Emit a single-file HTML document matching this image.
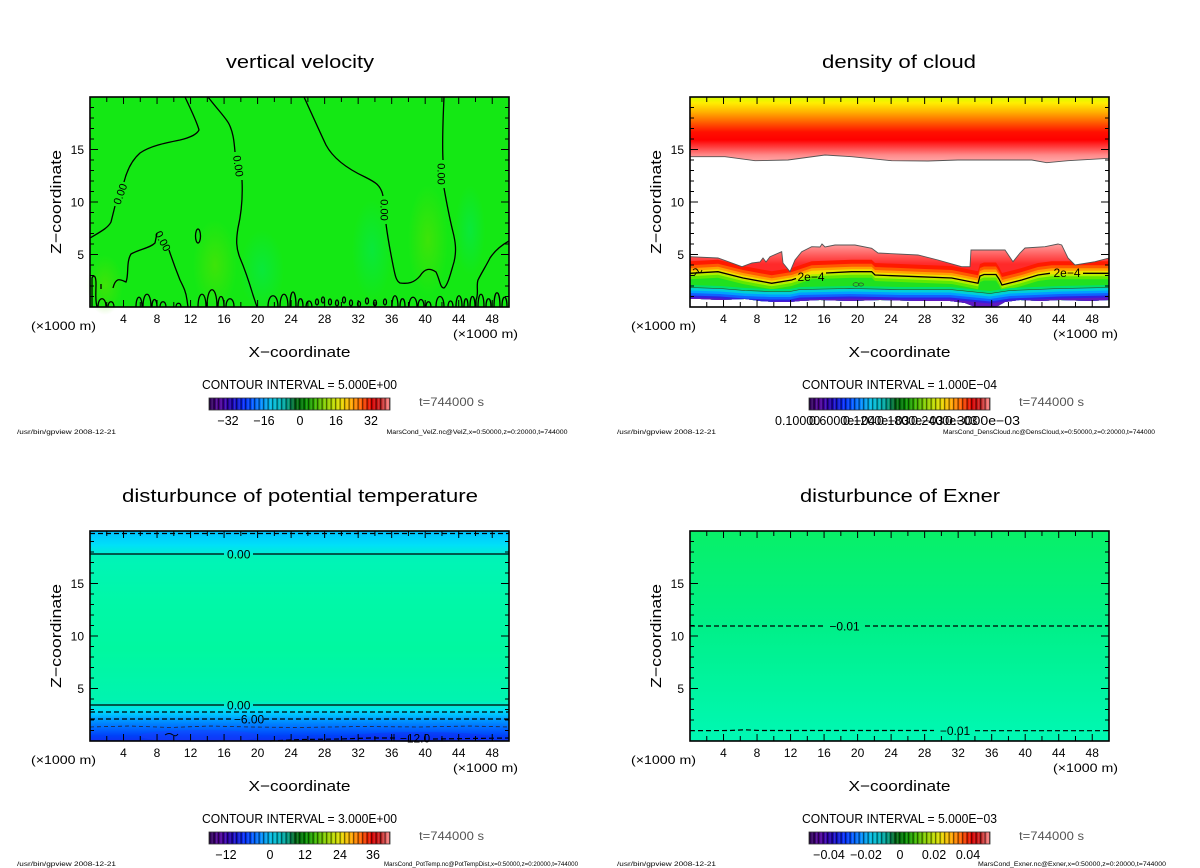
<!DOCTYPE html>
<html><head><meta charset="utf-8"><style>
html,body{margin:0;padding:0;background:#fff;}
svg{display:block;font-family:"Liberation Sans",sans-serif;}
</style></head><body>
<svg width="1200" height="868" viewBox="0 0 1200 868" xmlns="http://www.w3.org/2000/svg">
<defs>
<g id="ticks" fill="none" stroke="#000" stroke-width="1">
<path d="M16.76 0v5M50.28 0v5M83.8 0v5M117.32 0v5M150.84 0v5M184.36 0v5M217.88 0v5M251.4 0v5M284.92 0v5M318.44 0v5M351.96 0v5M385.48 0v5M16.76 210v-5M50.28 210v-5M83.8 210v-5M117.32 210v-5M150.84 210v-5M184.36 210v-5M217.88 210v-5M251.4 210v-5M284.92 210v-5M318.44 210v-5M351.96 210v-5M385.48 210v-5"/>
<path d="M33.52 0v7M67.04 0v7M100.56 0v7M134.08 0v7M167.6 0v7M201.12 0v7M234.64 0v7M268.16 0v7M301.68 0v7M335.2 0v7M368.72 0v7M402.24 0v7M33.52 210v-7M67.04 210v-7M100.56 210v-7M134.08 210v-7M167.6 210v-7M201.12 210v-7M234.64 210v-7M268.16 210v-7M301.68 210v-7M335.2 210v-7M368.72 210v-7M402.24 210v-7"/>
<path d="M0 199.5h4M0 189h4M0 178.5h4M0 168h4M0 147h4M0 136.5h4M0 126h4M0 115.5h4M0 94.5h4M0 84h4M0 73.5h4M0 63h4M0 42h4M0 31.5h4M0 21h4M0 10.5h4M419 199.5h-4M419 189h-4M419 178.5h-4M419 168h-4M419 147h-4M419 136.5h-4M419 126h-4M419 115.5h-4M419 94.5h-4M419 84h-4M419 73.5h-4M419 63h-4M419 42h-4M419 31.5h-4M419 21h-4M419 10.5h-4"/>
<path d="M0 157.5h8M0 105h8M0 52.5h8M419 157.5h-8M419 105h-8M419 52.5h-8"/>
<rect x="0" y="0" width="419" height="210" stroke-width="1.6"/>
</g>
<linearGradient id="cbg" x1="0" y1="0" x2="1" y2="0">
<stop offset="0" stop-color="#2a0050"/><stop offset="0.06" stop-color="#50009a"/><stop offset="0.12" stop-color="#2000b0"/>
<stop offset="0.2" stop-color="#0030ff"/><stop offset="0.28" stop-color="#0080ff"/><stop offset="0.35" stop-color="#00c0e0"/>
<stop offset="0.42" stop-color="#00a8a0"/><stop offset="0.48" stop-color="#006010"/><stop offset="0.53" stop-color="#008800"/>
<stop offset="0.58" stop-color="#30b000"/><stop offset="0.65" stop-color="#90d000"/><stop offset="0.72" stop-color="#e0e000"/>
<stop offset="0.78" stop-color="#ffb000"/><stop offset="0.84" stop-color="#ff6000"/><stop offset="0.9" stop-color="#e00000"/>
<stop offset="0.95" stop-color="#c02020"/><stop offset="1" stop-color="#ff9090"/>
</linearGradient>
<pattern id="stripes" patternUnits="userSpaceOnUse" x="209" y="0" width="4.5" height="20">
<rect x="0" y="0" width="1.3" height="20" fill="#000" fill-opacity="0.5"/>
<rect x="2.6" y="0" width="1" height="20" fill="#fff" fill-opacity="0.15"/>
</pattern>
<pattern id="stripes2" patternUnits="userSpaceOnUse" x="809" y="0" width="4.5" height="20">
<rect x="0" y="0" width="1.3" height="20" fill="#000" fill-opacity="0.5"/>
<rect x="2.6" y="0" width="1" height="20" fill="#fff" fill-opacity="0.15"/>
</pattern>
<radialGradient id="yg" cx="0.5" cy="0.5" r="0.5"><stop offset="0" stop-color="#60e000" stop-opacity="0.55"/><stop offset="1" stop-color="#60e000" stop-opacity="0"/></radialGradient>
<radialGradient id="bg" cx="0.5" cy="0.5" r="0.5"><stop offset="0" stop-color="#00e860" stop-opacity="0.5"/><stop offset="1" stop-color="#00e860" stop-opacity="0"/></radialGradient>
<linearGradient id="cloudTop" gradientUnits="userSpaceOnUse" x1="0" y1="97" x2="0" y2="163">
<stop offset="0" stop-color="#d8ff00"/><stop offset="0.09" stop-color="#ffee00"/><stop offset="0.23" stop-color="#ffb000"/>
<stop offset="0.38" stop-color="#ff6000"/><stop offset="0.53" stop-color="#ff1000"/><stop offset="0.65" stop-color="#ff0000"/>
<stop offset="0.76" stop-color="#ff4040"/><stop offset="0.88" stop-color="#ff8a8a"/><stop offset="1" stop-color="#ffb0b0"/>
</linearGradient>
<linearGradient id="cloudLow" gradientUnits="userSpaceOnUse" x1="0" y1="245" x2="0" y2="264">
<stop offset="0" stop-color="#ff9a9a"/><stop offset="0.5" stop-color="#ff6060"/><stop offset="1" stop-color="#ff2a2a"/>
</linearGradient>
<clipPath id="lowclip"><path d="M690,256.7 L718,258 L742,266.7 L752,263 L760,262 L763,258 L766,262 L770,256.7 L781.7,251.7 L783,263 L790,271.7 L795,260 L801.7,251.7 L811.7,246.7 L820,247 L822,244 L825,247 L835,245 L855,245 L871.7,248.3 L878,253 L918,255 L938,260 L961.7,266.7 L970,266.7 L971,250 L1005,250 L1013,261.7 L1020,253 L1025,248 L1045,246.7 L1058,244 L1061.7,245 L1068,258 L1075,265 L1095,261.7 L1109,258 L1109,300 L1090,301 L1060,300 L1040,301 L1020,300 L1005,302 L998,306 L990,307 L975,307 L965,303 L950,301 L920,301 L880,300 L850,301 L820,300 L800,301 L790,302 L775,302 L760,301 L745,299 L720,300 L700,299 L690,299 Z"/></clipPath>
<path id="c2poly" d="M690,273.3 L718,271.7 L743,278 L771.7,283.3 L791.7,280 L811.7,273.3 L851.7,271.7 L871.7,271.7 L875,275 L918,276.7 L951.7,278 L978,283.3 L980,276 L984,274.5 L996,274.5 L999,279 L1002,285 L1021.7,280 L1038,275 L1051.7,273.3 L1109,273.3 L1109,330 L690,330 Z"/>
<path id="wpoly" d="M690,0 L720,1 L745,3 L770,4 L790,4 L800,2 L850,1 L900,2 L950,2 L970,4 L990,6 L1010,3 L1060,1 L1109,0 L1109,40 L690,40 Z"/>
<linearGradient id="thetaG" gradientUnits="userSpaceOnUse" x1="0" y1="531" x2="0" y2="741">
<stop offset="0" stop-color="#00c0ff"/><stop offset="0.015" stop-color="#00c8ff"/><stop offset="0.067" stop-color="#00e0f8"/>
<stop offset="0.105" stop-color="#00ecd8"/><stop offset="0.12" stop-color="#00f4b8"/><stop offset="0.33" stop-color="#00f8a8"/>
<stop offset="0.567" stop-color="#00f8a0"/><stop offset="0.805" stop-color="#00f4b0"/><stop offset="0.83" stop-color="#00ecd0"/>
<stop offset="0.852" stop-color="#00e0f0"/><stop offset="0.871" stop-color="#00c8ff"/><stop offset="0.895" stop-color="#00a0ff"/>
<stop offset="0.919" stop-color="#0080ff"/><stop offset="0.948" stop-color="#0060ff"/><stop offset="0.976" stop-color="#0040f8"/>
<stop offset="1" stop-color="#1030f0"/>
</linearGradient>
<linearGradient id="exnerG" gradientUnits="userSpaceOnUse" x1="0" y1="531" x2="0" y2="741">
<stop offset="0" stop-color="#08f068"/><stop offset="0.45" stop-color="#00f088"/><stop offset="1" stop-color="#00f8b4"/>
</linearGradient>
</defs>

<!-- ============ PANEL TL: vertical velocity ============ -->
<rect x="90" y="97" width="419" height="210" fill="#14e814"/>
<g>
<ellipse cx="105" cy="285" rx="18" ry="30" fill="url(#yg)"/>
<ellipse cx="215" cy="265" rx="22" ry="45" fill="url(#yg)"/>
<ellipse cx="428" cy="240" rx="20" ry="55" fill="url(#yg)"/>
<ellipse cx="262" cy="270" rx="22" ry="40" fill="url(#bg)"/>
<ellipse cx="372" cy="250" rx="20" ry="50" fill="url(#bg)"/>
<ellipse cx="470" cy="230" rx="15" ry="45" fill="url(#bg)"/>
</g>
<g fill="none" stroke="#000" stroke-width="1.3">
<path d="M90,238 C100,232 108,228 111,222 L115,206"/>
<path d="M124,182 C127,170 132,160 140,153 C150,146 165,143 180,140 C192,137 197,134 199,130 C197,122 192,112 185,97"/>
<path d="M208,97 C218,110 226,118 229,124 C233,132 234,140 235,152"/>
<path d="M242,180 C243,200 241,215 238,228 C236,240 236,248 240,258 C246,272 250,285 253,295 L257,307"/>
<path d="M304,97 C310,110 318,128 326,145 C334,160 350,170 365,177 C375,182 381,185 383,196"/>
<path d="M386,224 C388,240 391,255 393,265 C395,275 396,281 400,283 C408,284 414,283 420,276 C425,268 430,268 436,272 C440,280 440,288 444,288 C448,285 451,272 454,262 C457,250 455,240 453,232 C450,220 447,205 444,188"/>
<path d="M443,160 C442,140 443,120 444,97"/>
<path d="M509,241 C500,246 494,252 490,258 C486,266 482,272 478,280 C476,286 479,294 476,300 L476,307"/>
<path d="M113,288 C116,276 121,280 126,282 C129,275 126,262 131,254 C140,249 150,248 155,243 L157,233"/>
<path d="M169,250 C173,262 176,270 180,280 C184,288 186,292 187,300 L188,307"/>
<ellipse cx="198" cy="236" rx="2.5" ry="7"/>
<path d="M92,307 L92,278 C94,274 96,276 96,284 C96,292 95,300 97,307"/>
<path d="M101,284 l0,5"/>
<path d="M98,307C98,296 106,296 106,307M108,307C108,300 114,300 114,307M136,307C136,294 142,294 142,307M143,307C143,290 151,290 151,307M152,307C152,297 157,297 157,307M160,307C160,300 166,300 166,307M176,307C176,302 181,302 181,307M198,307C198,290 206,290 206,307M207,307C207,284 217,284 217,307M218,307C218,293 224,293 224,307M226,307C226,296 234,296 234,307M268,307C268,292 278,292 278,307M280,307C280,290 288,290 288,307M290,307C290,287 296,287 296,307M298,307C298,296 303,296 303,307M306,307C306,299 312,299 312,307"/>
<path d="M392,307C392,292 398,292 398,307M400,307C400,296 405,296 405,307M409,307C409,294 417,294 417,307M418,307C418,297 424,297 424,307M426,307C426,300 431,300 431,307M436,307C436,293 444,293 444,307M448,307C448,299 453,299 453,307M456,307C456,292 462,292 462,307M464,307C464,296 468,296 468,307M470,307C470,293 475,293 475,307M478,307C478,290 484,290 484,307M486,307C486,296 491,296 491,307M494,307C494,288 500,288 500,307M502,307C502,294 507,294 507,307"/>
<ellipse cx="317" cy="302" rx="1.5" ry="3"/><ellipse cx="323" cy="300" rx="1.5" ry="3"/><ellipse cx="330" cy="302" rx="1.5" ry="3"/>
<ellipse cx="337" cy="303" rx="1.5" ry="3"/><ellipse cx="344" cy="300" rx="1.5" ry="3"/><ellipse cx="351" cy="303" rx="1.5" ry="3"/>
<ellipse cx="359" cy="304" rx="1.5" ry="2.5"/><ellipse cx="367" cy="301" rx="1.5" ry="3"/><ellipse cx="375" cy="303" rx="1.5" ry="3"/><ellipse cx="385" cy="302" rx="1.5" ry="3"/>
</g>
<g font-size="11" text-anchor="middle" fill="#000">
<text transform="translate(120,194) rotate(-70)" y="4">0.00</text>
<text transform="translate(238.5,166) rotate(82)" y="4">0.00</text>
<text transform="translate(384.5,210) rotate(90)" y="4">0.00</text>
<text transform="translate(441.5,174) rotate(90)" y="4">0.00</text>
<text transform="translate(163,241) rotate(62)" y="4">0.00</text>
</g>
<use href="#ticks" transform="translate(90,97)"/>

<g fill="#000">
<text x="300" y="68" font-size="18" text-anchor="middle" textLength="148" lengthAdjust="spacingAndGlyphs">vertical velocity</text>
<g font-size="12" text-anchor="middle">
<text x="123.5" y="323">4</text><text x="157" y="323">8</text><text x="190.6" y="323">12</text><text x="224.1" y="323">16</text>
<text x="257.6" y="323">20</text><text x="291.1" y="323">24</text><text x="324.6" y="323">28</text><text x="358.2" y="323">32</text>
<text x="391.7" y="323">36</text><text x="425.2" y="323">40</text><text x="458.7" y="323">44</text><text x="492.2" y="323">48</text>
</g>
<g font-size="12" text-anchor="end">
<text x="84" y="154">15</text><text x="84" y="206.5">10</text><text x="84" y="259">5</text>
</g>
<text x="31" y="330" font-size="12" textLength="65" lengthAdjust="spacingAndGlyphs">(×1000 m)</text>
<text x="453" y="338" font-size="12" textLength="65" lengthAdjust="spacingAndGlyphs">(×1000 m)</text>
<text x="299.5" y="357" font-size="15" text-anchor="middle" textLength="102" lengthAdjust="spacingAndGlyphs">X−coordinate</text>
<text transform="translate(61,202) rotate(-90)" font-size="15" text-anchor="middle" textLength="104" lengthAdjust="spacingAndGlyphs">Z−coordinate</text>
<text x="202" y="389" font-size="13" textLength="195" lengthAdjust="spacingAndGlyphs">CONTOUR INTERVAL = 5.000E+00</text>
<text x="419" y="406" font-size="12" fill="#555" textLength="65" lengthAdjust="spacingAndGlyphs">t=744000 s</text>
<g font-size="12.5" text-anchor="middle">
<text x="228" y="425">−32</text><text x="264" y="425">−16</text><text x="300" y="425">0</text><text x="336" y="425">16</text><text x="371" y="425">32</text>
</g>
<text x="17" y="434" font-size="6.5" textLength="99" lengthAdjust="spacingAndGlyphs">/usr/bin/gpview  2008-12-21</text>
<text x="386.5" y="434" font-size="6.5" textLength="181" lengthAdjust="spacingAndGlyphs">MarsCond_VelZ.nc@VelZ,x=0:50000,z=0:20000,t=744000</text>
</g>
<rect x="209" y="398" width="181" height="12" fill="url(#cbg)"/>
<rect x="209" y="398" width="181" height="12" fill="url(#stripes)"/>
<rect x="209" y="398" width="181" height="12" fill="none" stroke="#333" stroke-width="0.8"/>

<!-- ============ PANEL TR: density of cloud ============ -->
<rect x="690" y="97" width="419" height="210" fill="#fff"/>
<path d="M690,97 H1109 V158.3 L1068,160.7 L1046.7,162.7 L1031.7,160 L985,160 L958,160 L928,161 L891.7,160.7 L851.7,156.7 L825,155 L788,160 L755,160.7 L725,156.7 L690,156.7 Z" fill="url(#cloudTop)"/>
<path d="M690,156.7 L725,156.7 L755,160.7 L788,160 L825,155 L851.7,156.7 L891.7,160.7 L928,161 L958,160 L985,160 L1031.7,160 L1046.7,162.7 L1068,160.7 L1109,158.3" fill="none" stroke="#555" stroke-width="0.9"/>
<g clip-path="url(#lowclip)">
<rect x="690" y="240" width="419" height="70" fill="url(#cloudLow)"/>
<use href="#c2poly" transform="translate(0,-12)" fill="#ff1a00"/>
<use href="#c2poly" transform="translate(0,-8)" fill="#ff5a00"/>
<use href="#c2poly" transform="translate(0,-5)" fill="#ffa000"/>
<use href="#c2poly" transform="translate(0,-2.5)" fill="#f0e000"/>
<use href="#c2poly" transform="translate(0,1)" fill="#b0f000"/>
<use href="#c2poly" transform="translate(0,3)" fill="#60e800"/>
<use href="#c2poly" transform="translate(0,6)" fill="#20e020"/>
<use href="#wpoly" transform="translate(0,285)" fill="#00e070"/>
<use href="#wpoly" transform="translate(0,288)" fill="#00d0d8"/>
<use href="#wpoly" transform="translate(0,290.5)" fill="#00a0ff"/>
<use href="#wpoly" transform="translate(0,293)" fill="#1060ff"/>
<use href="#wpoly" transform="translate(0,295.5)" fill="#3020e0"/>
<use href="#wpoly" transform="translate(0,297.5)" fill="#6018c0"/>
</g>
<path d="M690,256.7 L718,258 L742,266.7 L752,263 L760,262 L763,258 L766,262 L770,256.7 L781.7,251.7 L783,263 L790,271.7 L795,260 L801.7,251.7 L811.7,246.7 L820,247 L822,244 L825,247 L835,245 L855,245 L871.7,248.3 L878,253 L918,255 L938,260 L961.7,266.7 L970,266.7 L971,250 L1005,250 L1013,261.7 L1020,253 L1025,248 L1045,246.7 L1058,244 L1061.7,245 L1068,258 L1075,265 L1095,261.7 L1109,258" fill="none" stroke="#555" stroke-width="0.9"/>
<path d="M690,287.5 L720,288.5 L745,290.5 L770,291.5 L790,291.5 L800,289.5 L850,288.5 L900,289.5 L950,289.5 L970,291.5 L990,293.5 L1010,290.5 L1060,288.5 L1109,287.5" fill="none" stroke="#333" stroke-width="0.6"/>
<g fill="none" stroke="#000" stroke-width="1.3">
<path d="M690,273.3 L718,271.7 L743,278 L771.7,283.3 L791.7,280 L796,278.5"/>
<path d="M826,273 L851.7,271.7 L871.7,271.7 L875,275 L918,276.7 L951.7,278 L978,283.3 L980,276 L984,274.5 L996,274.5 L999,279 L1002,285 L1021.7,280 L1038,275 L1050,273.3"/>
<path d="M1083,273.3 L1109,273.3"/>
</g>
<path d="M693,270 q3,-3 5,1 q2,4 4,-1 M694,276 l3,-4" fill="none" stroke="#000" stroke-width="0.9"/>
<ellipse cx="856" cy="284.5" rx="3" ry="1.8" fill="none" stroke="#333" stroke-width="0.6"/>
<ellipse cx="861" cy="284.5" rx="2.5" ry="1.6" fill="none" stroke="#333" stroke-width="0.6"/>
<g font-size="12" fill="#000" text-anchor="middle">
<text x="811" y="281">2e−4</text>
<text x="1067" y="277">2e−4</text>
</g>
<use href="#ticks" transform="translate(690,97)"/>

<g fill="#000">
<text x="899" y="68" font-size="18" text-anchor="middle" textLength="154" lengthAdjust="spacingAndGlyphs">density of cloud</text>
<g font-size="12" text-anchor="middle">
<text x="723.5" y="323">4</text><text x="757" y="323">8</text><text x="790.6" y="323">12</text><text x="824.1" y="323">16</text>
<text x="857.6" y="323">20</text><text x="891.1" y="323">24</text><text x="924.6" y="323">28</text><text x="958.2" y="323">32</text>
<text x="991.7" y="323">36</text><text x="1025.2" y="323">40</text><text x="1058.7" y="323">44</text><text x="1092.2" y="323">48</text>
</g>
<g font-size="12" text-anchor="end">
<text x="684" y="154">15</text><text x="684" y="206.5">10</text><text x="684" y="259">5</text>
</g>
<text x="631" y="330" font-size="12" textLength="65" lengthAdjust="spacingAndGlyphs">(×1000 m)</text>
<text x="1053" y="338" font-size="12" textLength="65" lengthAdjust="spacingAndGlyphs">(×1000 m)</text>
<text x="899.5" y="357" font-size="15" text-anchor="middle" textLength="102" lengthAdjust="spacingAndGlyphs">X−coordinate</text>
<text transform="translate(661,202) rotate(-90)" font-size="15" text-anchor="middle" textLength="104" lengthAdjust="spacingAndGlyphs">Z−coordinate</text>
<text x="802" y="389" font-size="13" textLength="195" lengthAdjust="spacingAndGlyphs">CONTOUR INTERVAL = 1.000E−04</text>
<text x="1019" y="406" font-size="12" fill="#555" textLength="65" lengthAdjust="spacingAndGlyphs">t=744000 s</text>
<g font-size="12.5">
<text x="775" y="425">0.10000</text>
<text x="809" y="425">0.6000e−04</text>
<text x="843" y="425">0.1200e−03</text>
<text x="877" y="425">0.1800e−03</text>
<text x="911" y="425">0.2400e−03</text>
<text x="945" y="425" textLength="75" lengthAdjust="spacingAndGlyphs">0.3000e−03</text>
</g>
<text x="617" y="434" font-size="6.5" textLength="99" lengthAdjust="spacingAndGlyphs">/usr/bin/gpview  2008-12-21</text>
<text x="943" y="434" font-size="6.5" textLength="212" lengthAdjust="spacingAndGlyphs">MarsCond_DensCloud.nc@DensCloud,x=0:50000,z=0:20000,t=744000</text>
</g>
<rect x="809" y="398" width="181" height="12" fill="url(#cbg)"/>
<rect x="809" y="398" width="181" height="12" fill="url(#stripes2)"/>
<rect x="809" y="398" width="181" height="12" fill="none" stroke="#333" stroke-width="0.8"/>

<!-- ============ PANEL BL: potential temperature ============ -->
<rect x="90" y="531" width="419" height="210" fill="url(#thetaG)"/>
<ellipse cx="200" cy="736" rx="60" ry="6" fill="#2040ff" fill-opacity="0.35"/>
<ellipse cx="420" cy="737" rx="70" ry="5" fill="#1828f0" fill-opacity="0.35"/>
<g fill="none" stroke="#000" stroke-width="1.2">
<path d="M90,533.5 H509" stroke-dasharray="5,3"/>
<path d="M90,554 H224 M253,554 H509"/>
<path d="M90,705 H224 M253,705 H509"/>
<path d="M90,712 H509" stroke-dasharray="5,3"/>
<path d="M90,719 H234 M264,719 H509" stroke-dasharray="5,3"/>
<path d="M90,727 L130,726 L170,727.5 L210,726 L250,727 L300,727.5 L360,726.5 L420,727 L470,726 L509,727" stroke-dasharray="4,3" stroke-width="0.8" stroke="#223"/>
<path d="M270,741 L300,739.5 L340,739 L370,738 L396,738 M433,739 L470,738.5 L509,738" stroke-dasharray="5,3"/>
<path d="M165,735 q4,-3 8,0 q3,2 5,-1" stroke-width="0.9"/>
<path d="M394,734 v7" stroke-width="0.9"/>
</g>
<g font-size="12" fill="#000" text-anchor="middle">
<text x="238.7" y="558.5">0.00</text>
<text x="238.7" y="709.5">0.00</text>
<text x="249" y="723.5">−6.00</text>
<text x="415" y="742.5">−12.0</text>
</g>
<use href="#ticks" transform="translate(90,531)"/>

<g fill="#000">
<text x="300" y="502" font-size="18" text-anchor="middle" textLength="356" lengthAdjust="spacingAndGlyphs">disturbunce of potential temperature</text>
<g font-size="12" text-anchor="middle">
<text x="123.5" y="757">4</text><text x="157" y="757">8</text><text x="190.6" y="757">12</text><text x="224.1" y="757">16</text>
<text x="257.6" y="757">20</text><text x="291.1" y="757">24</text><text x="324.6" y="757">28</text><text x="358.2" y="757">32</text>
<text x="391.7" y="757">36</text><text x="425.2" y="757">40</text><text x="458.7" y="757">44</text><text x="492.2" y="757">48</text>
</g>
<g font-size="12" text-anchor="end">
<text x="84" y="588">15</text><text x="84" y="640.5">10</text><text x="84" y="693">5</text>
</g>
<text x="31" y="764" font-size="12" textLength="65" lengthAdjust="spacingAndGlyphs">(×1000 m)</text>
<text x="453" y="772" font-size="12" textLength="65" lengthAdjust="spacingAndGlyphs">(×1000 m)</text>
<text x="299.5" y="791" font-size="15" text-anchor="middle" textLength="102" lengthAdjust="spacingAndGlyphs">X−coordinate</text>
<text transform="translate(61,636) rotate(-90)" font-size="15" text-anchor="middle" textLength="104" lengthAdjust="spacingAndGlyphs">Z−coordinate</text>
<text x="202" y="823" font-size="13" textLength="195" lengthAdjust="spacingAndGlyphs">CONTOUR INTERVAL = 3.000E+00</text>
<text x="419" y="840" font-size="12" fill="#555" textLength="65" lengthAdjust="spacingAndGlyphs">t=744000 s</text>
<g font-size="12.5" text-anchor="middle">
<text x="226" y="859">−12</text><text x="270" y="859">0</text><text x="305" y="859">12</text><text x="340" y="859">24</text><text x="373" y="859">36</text>
</g>
<text x="17" y="866" font-size="6.5" textLength="99" lengthAdjust="spacingAndGlyphs">/usr/bin/gpview  2008-12-21</text>
<text x="384" y="866" font-size="6.5" textLength="194" lengthAdjust="spacingAndGlyphs">MarsCond_PotTemp.nc@PotTempDist,x=0:50000,z=0:20000,t=744000</text>
</g>
<rect x="209" y="832" width="181" height="12" fill="url(#cbg)"/>
<rect x="209" y="832" width="181" height="12" fill="url(#stripes)"/>
<rect x="209" y="832" width="181" height="12" fill="none" stroke="#333" stroke-width="0.8"/>

<!-- ============ PANEL BR: Exner ============ -->
<rect x="690" y="531" width="419" height="210" fill="url(#exnerG)"/>
<g fill="none" stroke="#000" stroke-width="1.2" stroke-dasharray="5,3">
<path d="M690,626 H824 M865,626 H1109"/>
<path d="M690,730.7 L730,730.5 L745,729.8 L760,730.5 H934 M975,730.7 H1109"/>
</g>
<g font-size="12" fill="#000" text-anchor="middle">
<text x="844.5" y="630.5">−0.01</text>
<text x="955" y="735">−0.01</text>
</g>
<use href="#ticks" transform="translate(690,531)"/>

<g fill="#000">
<text x="900" y="502" font-size="18" text-anchor="middle" textLength="200" lengthAdjust="spacingAndGlyphs">disturbunce of Exner</text>
<g font-size="12" text-anchor="middle">
<text x="723.5" y="757">4</text><text x="757" y="757">8</text><text x="790.6" y="757">12</text><text x="824.1" y="757">16</text>
<text x="857.6" y="757">20</text><text x="891.1" y="757">24</text><text x="924.6" y="757">28</text><text x="958.2" y="757">32</text>
<text x="991.7" y="757">36</text><text x="1025.2" y="757">40</text><text x="1058.7" y="757">44</text><text x="1092.2" y="757">48</text>
</g>
<g font-size="12" text-anchor="end">
<text x="684" y="588">15</text><text x="684" y="640.5">10</text><text x="684" y="693">5</text>
</g>
<text x="631" y="764" font-size="12" textLength="65" lengthAdjust="spacingAndGlyphs">(×1000 m)</text>
<text x="1053" y="772" font-size="12" textLength="65" lengthAdjust="spacingAndGlyphs">(×1000 m)</text>
<text x="899.5" y="791" font-size="15" text-anchor="middle" textLength="102" lengthAdjust="spacingAndGlyphs">X−coordinate</text>
<text transform="translate(661,636) rotate(-90)" font-size="15" text-anchor="middle" textLength="104" lengthAdjust="spacingAndGlyphs">Z−coordinate</text>
<text x="802" y="823" font-size="13" textLength="195" lengthAdjust="spacingAndGlyphs">CONTOUR INTERVAL = 5.000E−03</text>
<text x="1019" y="840" font-size="12" fill="#555" textLength="65" lengthAdjust="spacingAndGlyphs">t=744000 s</text>
<g font-size="12.5" text-anchor="middle">
<text x="829" y="859">−0.04</text><text x="866" y="859">−0.02</text><text x="900" y="859">0</text><text x="934" y="859">0.02</text><text x="968" y="859">0.04</text>
</g>
<text x="617" y="866" font-size="6.5" textLength="99" lengthAdjust="spacingAndGlyphs">/usr/bin/gpview  2008-12-21</text>
<text x="978" y="866" font-size="6.5" textLength="188" lengthAdjust="spacingAndGlyphs">MarsCond_Exner.nc@Exner,x=0:50000,z=0:20000,t=744000</text>
</g>
<rect x="809" y="832" width="181" height="12" fill="url(#cbg)"/>
<rect x="809" y="832" width="181" height="12" fill="url(#stripes2)"/>
<rect x="809" y="832" width="181" height="12" fill="none" stroke="#333" stroke-width="0.8"/>
</svg>
</body></html>
